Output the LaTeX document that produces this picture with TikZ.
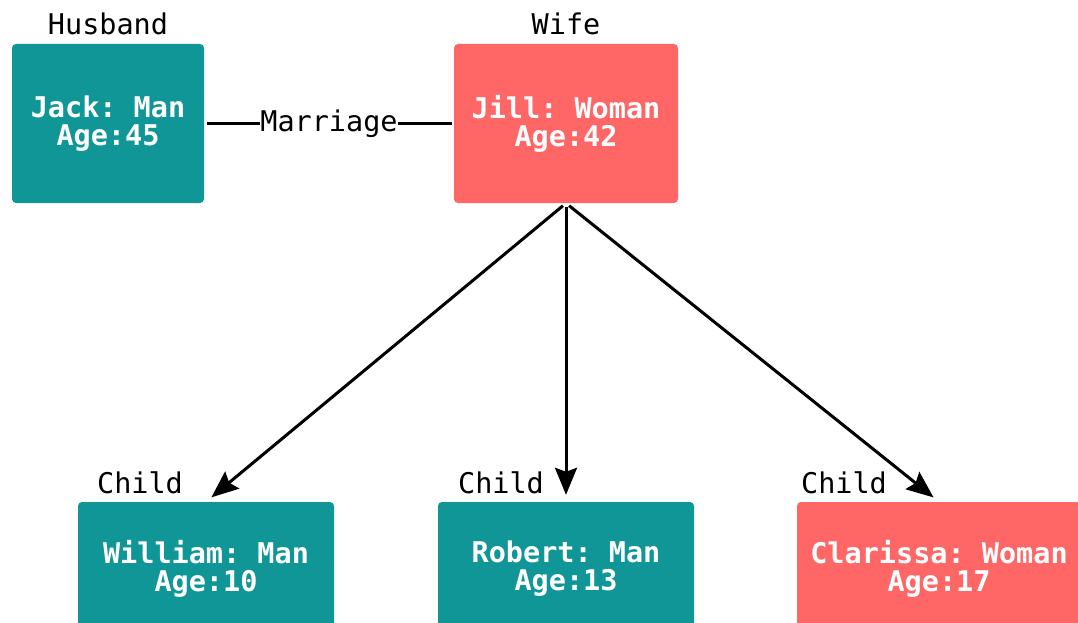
\documentclass[tikz,border=0pt]{standalone}
\usepackage{fontspec}
\setmonofont{DejaVu Sans Mono}
\usetikzlibrary{arrows.meta}
\definecolor{teal}{RGB}{16,150,150}
\definecolor{coral}{RGB}{255,102,102}
\begin{document}
\begin{tikzpicture}[x=1pt,y=-1pt,
  person/.style={rounded corners=4pt, inner sep=0pt, align=center,
    text=white, font=\fontsize{28.5}{28}\selectfont\ttfamily\bfseries},
  man/.style={person, fill=teal},
  woman/.style={person, fill=coral},
  tag/.style={anchor=base, inner sep=0pt, font=\fontsize{28.5}{28}\selectfont\ttfamily},
  link/.style={line width=2.5pt},
  child/.style={line width=3pt, -{Stealth[length=27pt,width=22pt,inset=4pt]},
    shorten <=4pt, shorten >=7pt}]
\useasboundingbox (0,0) rectangle (1078,623);
\fill[white] (0,0) rectangle (1078,623);

% parents
\node[man, minimum width=192pt, minimum height=159pt] (jack) at (108,123.5) {Jack: Man\\Age:45};
\node[woman, minimum width=224pt, minimum height=159pt] (jill) at (566,123.5) {Jill: Woman\\Age:42};
\node[tag] (husband) at (108,35) {Husband};
\node[tag] (wife) at (566,35) {Wife};

% children
\node[man, minimum width=256pt, minimum height=134pt] (william) at (206,569) {William: Man\\Age:10};
\node[man, minimum width=256pt, minimum height=134pt] (robert) at (566,569) {Robert: Man\\Age:13};
\node[woman, minimum width=284pt, minimum height=134pt] (clarissa) at (939,569) {Clarissa: Woman\\Age:17};
\node[tag] (c1) at (140,493) {Child};
\node[tag] (c2) at (501,493) {Child};
\node[tag] (c3) at (844,493) {Child};

% relations
\draw[link, shorten <=3pt, shorten >=2pt] (jack.east) -- node[fill=white, inner xsep=0.5pt, inner ysep=2pt,
  font=\fontsize{28.5}{28}\selectfont\ttfamily] (marriage) {Marriage} (jill.west);
\draw[child] (jill.south) -- (william.north);
\draw[child] (jill.south) -- (robert.north);
\draw[child] (jill.south) -- (clarissa.north);
\end{tikzpicture}
\end{document}
